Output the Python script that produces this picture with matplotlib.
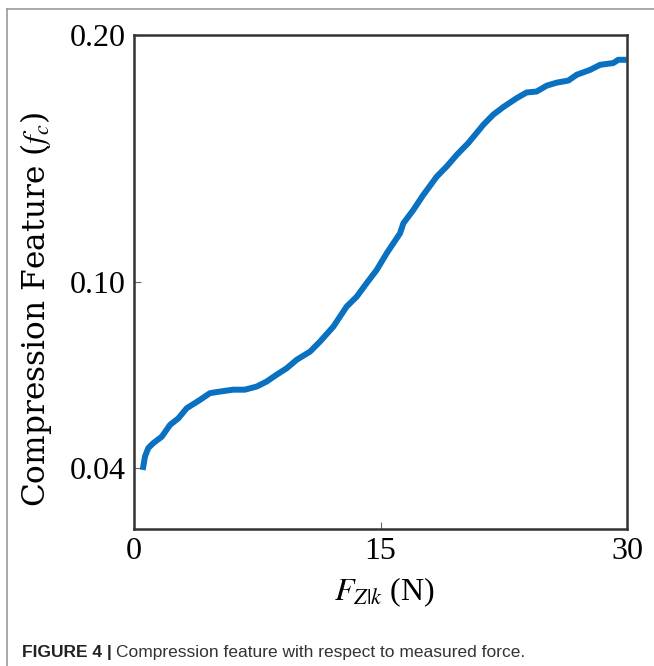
import numpy as np
import matplotlib
matplotlib.use("Agg")
import matplotlib.pyplot as plt
from matplotlib.lines import Line2D

# force (N) and compression feature
force = [0.53, 0.67, 0.87, 1.17, 1.69, 2.19, 2.70, 3.21, 4.02, 4.62, 5.23, 6.04,
         6.75, 7.47, 8.07, 8.68, 9.29, 9.90, 10.71, 11.32, 12.13, 12.94, 13.55,
         14.16, 14.77, 15.38, 16.19, 16.39, 17.00, 17.60, 18.42, 19.03, 19.64,
         20.34, 21.26, 21.86, 22.47, 23.29, 23.89, 24.50, 25.11, 25.72, 26.43,
         26.94, 27.75, 28.36, 29.17, 29.47, 29.98]
fc = [0.0394, 0.0432, 0.0456, 0.0470, 0.0489, 0.0524, 0.0544, 0.0575, 0.0601,
      0.0622, 0.0627, 0.0633, 0.0633, 0.0643, 0.0659, 0.0681, 0.0702, 0.0730,
      0.0757, 0.0791, 0.0842, 0.0912, 0.0947, 0.0996, 0.1044, 0.1106, 0.1181,
      0.1219, 0.1271, 0.1329, 0.1402, 0.1443, 0.1490, 0.1538, 0.1614, 0.1656,
      0.1688, 0.1726, 0.1750, 0.1754, 0.1779, 0.1792, 0.1801, 0.1826, 0.1847,
      0.1869, 0.1877, 0.1891, 0.1891]

xticks = [0, 15, 30]
yticks = [0.04, 0.10, 0.20]
ytick_labels = ["0.04", "0.10", "0.20"]

plt.rcParams["font.family"] = ["Liberation Serif", "DejaVu Serif"]
plt.rcParams["mathtext.fontset"] = "stix"

p = 0.71
def fwd(v):
    v = np.asarray(v, dtype=float)
    return np.sign(v) * np.abs(v) ** p
def inv(v):
    v = np.asarray(v, dtype=float)
    return np.sign(v) * np.abs(v) ** (1 / p)

fig = plt.figure(figsize=(6.54, 6.66), dpi=100)
ax = fig.add_axes([134 / 654, 1 - 529 / 666, 493 / 654, 494 / 666])

ax.plot(force, fc, color="#0a70c0", lw=4.3, solid_capstyle="butt")

ax.set_yscale("function", functions=(fwd, inv))
ax.set_xlim(0, 30)
ax.set_ylim(0.0241, 0.20)
ax.set_xticks(xticks)
ax.set_xticklabels([str(t) for t in xticks])
ax.set_yticks(yticks)
ax.set_yticklabels(ytick_labels)
ax.minorticks_off()
ax.tick_params(direction="in", length=5, width=0.8, color="#666666",
               labelsize=23, pad=6)

for s in ax.spines.values():
    s.set_color("#333333")
    s.set_linewidth(1.8)

ax.set_xlabel(r"$F_{Z|k}$ (N)", fontsize=23)
ax.xaxis.set_label_coords(0.507, -0.093)
ax.set_ylabel(r"Compression Feature ($f_c$)", fontsize=22.5, va="center",
              family=["DejaVu Serif"])
ax.yaxis.set_label_coords(-0.199, 0.445)

# page frame lines
fig.add_artist(Line2D([7 / 654, 1], [1 - 9 / 666, 1 - 9 / 666], color="#999999", lw=1.2))
fig.add_artist(Line2D([7 / 654, 7 / 654], [0, 1 - 9 / 666], color="#999999", lw=1.2))

# caption
cap_y = 1 - 657 / 666
cap_font = ["Liberation Sans Narrow", "Liberation Sans", "DejaVu Sans"]
t1 = fig.text(22 / 654, cap_y, "FIGURE 4 |", fontsize=12.5, fontweight="bold",
              family=cap_font, color="#222222", va="baseline")
fig.canvas.draw()
bb = t1.get_window_extent()
fig.text(bb.x1 / fig.bbox.width + 4 / 654, cap_y,
         "Compression feature with respect to measured force.", fontsize=12.5,
         family=cap_font, color="#333333", va="baseline")

fig.savefig("out.png", dpi=100)
